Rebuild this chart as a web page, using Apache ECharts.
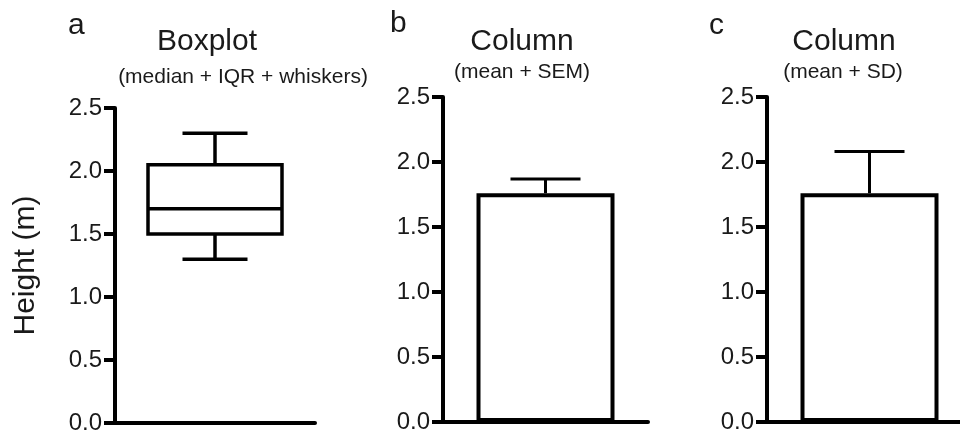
<!DOCTYPE html>
<html>
<head>
<meta charset="utf-8">
<script src="https://cdn.jsdelivr.net/npm/echarts@6/dist/echarts.min.js"></script>
<style>
html,body{margin:0;padding:0;background:#fff;}
#chart{width:960px;height:433px;}
</style>
</head>
<body>
<div id="chart"></div>
<script>
// ---- data ----
const panelLetters = ['a', 'b', 'c'];
const panelTitles = ['Boxplot', 'Column', 'Column'];
const panelSubtitles = ['(median + IQR + whiskers)', '(mean + SEM)', '(mean + SD)'];
const yAxisName = 'Height (m)';
const yMin = 0, yMax = 2.5, yStep = 0.5;
const categories = ['Height'];
// boxplot: [min, Q1, median, Q3, max]
const boxStats = [1.3, 1.5, 1.7, 2.05, 2.3];
// columns: mean and error (SEM / SD)
const colMeans = [1.76, 1.76];
const colErrors = [0.11, 0.32];

// ---- layout ----
const font = 'Liberation Sans, Arial, Helvetica, sans-serif';
const grids = [
  {left: 115, top: 108, width: 200, height: 315, outerBoundsMode: 'none', containLabel: false},
  {left: 443, top: 97, width: 205, height: 325, outerBoundsMode: 'none', containLabel: false},
  {left: 767, top: 97, width: 205, height: 325, outerBoundsMode: 'none', containLabel: false}
];

const chart = echarts.init(document.getElementById('chart'));

function yAxisCfg(i) {
  return {
    type: 'value', gridIndex: i, min: yMin, max: yMax, interval: yStep,
    name: i === 0 ? yAxisName : '',
    nameLocation: 'middle', nameGap: 74,
    nameTextStyle: {fontFamily: font, fontSize: 30, color: '#1a1a1a'},
    axisLine: {show: true, lineStyle: {color: '#000', width: 4}},
    axisTick: {show: true, length: 11, lineStyle: {color: '#000', width: 4}},
    axisLabel: {fontFamily: font, fontSize: 24, color: '#1a1a1a', margin: 13,
      formatter: v => v.toFixed(1)},
    splitLine: {show: false}
  };
}
function xAxisCfg(i) {
  return {
    type: 'category', gridIndex: i, data: categories,
    axisLine: {show: true, lineStyle: {color: '#000', width: 4}},
    axisTick: {show: false}, axisLabel: {show: false}, splitLine: {show: false}
  };
}

const boxSeries = {
  type: 'custom', xAxisIndex: 0, yAxisIndex: 0,
  data: [[0].concat(boxStats)],
  encode: {x: 0, y: [1, 2, 3, 4, 5]},
  renderItem: function (params, api) {
    const band = api.size([1, 0])[0];
    const boxW = band * 0.67, capW = band * 0.325;
    const c = api.coord([api.value(0), api.value(3)]);
    const cx = c[0];
    const y = k => api.coord([api.value(0), api.value(k)])[1];
    const yMinV = y(1), yQ1 = y(2), yMed = y(3), yQ3 = y(4), yMaxV = y(5);
    const ls = {stroke: '#000', lineWidth: 3.5, fill: null};
    return {
      type: 'group',
      children: [
        {type: 'rect', shape: {x: cx - boxW / 2, y: yQ3, width: boxW, height: yQ1 - yQ3}, style: {fill: '#fff', stroke: '#000', lineWidth: 3.5}},
        {type: 'line', shape: {x1: cx - boxW / 2, y1: yMed, x2: cx + boxW / 2, y2: yMed}, style: ls},
        {type: 'line', shape: {x1: cx, y1: yQ3, x2: cx, y2: yMaxV}, style: ls},
        {type: 'line', shape: {x1: cx, y1: yQ1, x2: cx, y2: yMinV}, style: ls},
        {type: 'line', shape: {x1: cx - capW / 2, y1: yMaxV, x2: cx + capW / 2, y2: yMaxV}, style: ls},
        {type: 'line', shape: {x1: cx - capW / 2, y1: yMinV, x2: cx + capW / 2, y2: yMinV}, style: ls}
      ]
    };
  }
};

const series = [boxSeries];
colMeans.forEach((m, j) => {
  const gi = j + 1;
  series.push({
    type: 'bar', xAxisIndex: gi, yAxisIndex: gi, data: [m], barWidth: 138,
    itemStyle: {color: '#fff', borderColor: '#000', borderWidth: 4}, z: 2
  });
  series.push({
    type: 'custom', xAxisIndex: gi, yAxisIndex: gi, z: 3,
    data: [[0, m, m + colErrors[j]]],
    encode: {x: 0, y: [1, 2]},
    renderItem: function (params, api) {
      const p0 = api.coord([api.value(0), api.value(1)]);
      const p1 = api.coord([api.value(0), api.value(2)]);
      const capW = 70;
      const ls = {stroke: '#000', lineWidth: 3, fill: null};
      return {
        type: 'group',
        children: [
          {type: 'line', shape: {x1: p0[0], y1: p0[1], x2: p1[0], y2: p1[1]}, style: ls},
          {type: 'line', shape: {x1: p1[0] - capW / 2, y1: p1[1], x2: p1[0] + capW / 2, y2: p1[1]}, style: ls}
        ]
      };
    }
  });
});

const letterPos = [[68, 26], [390, 24], [709, 26]];
const titleX = [207, 522, 844];
const subPos = [[243, 77], [522, 72], [843, 72]];
const graphics = [];
for (let i = 0; i < 3; i++) {
  graphics.push({type: 'text', x: letterPos[i][0], y: letterPos[i][1],
    style: {text: panelLetters[i], font: '30px ' + font, fill: '#1a1a1a', textAlign: 'left', textVerticalAlign: 'middle'}});
  graphics.push({type: 'text', x: titleX[i], y: 42,
    style: {text: panelTitles[i], font: '30px ' + font, fill: '#1a1a1a', textAlign: 'center', textVerticalAlign: 'middle'}});
  graphics.push({type: 'text', x: subPos[i][0], y: subPos[i][1],
    style: {text: panelSubtitles[i], font: '21px ' + font, fill: '#1a1a1a', textAlign: 'center', textVerticalAlign: 'middle'}});
}

chart.setOption({
  backgroundColor: '#fff',
  animation: false,
  grid: grids,
  xAxis: [0, 1, 2].map(xAxisCfg),
  yAxis: [0, 1, 2].map(yAxisCfg),
  series: series,
  graphic: graphics
});
</script>
</body>
</html>
